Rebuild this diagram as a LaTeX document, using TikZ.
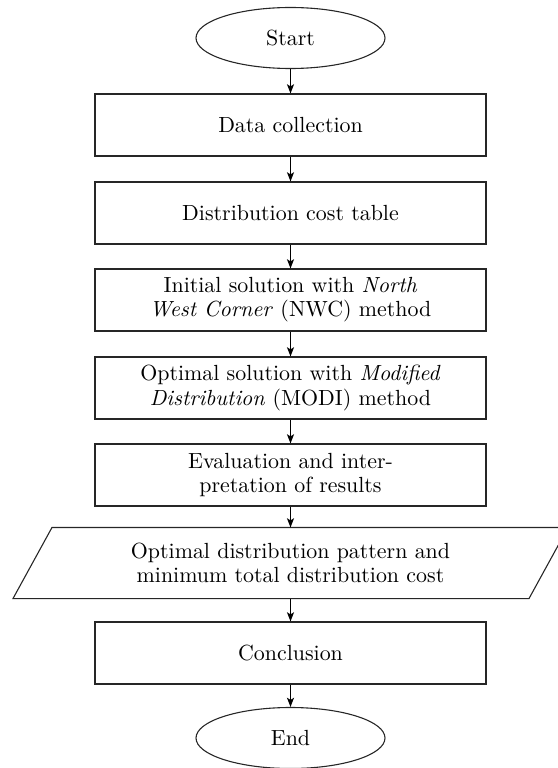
\documentclass[tikz,border=0pt]{standalone}
\usetikzlibrary{shapes.geometric,calc,arrows.meta}
\begin{document}
\begin{tikzpicture}[x=0.4566pt,y=-0.4566pt, line width=0.5pt,
  every node/.style={font=\fontsize{10}{11}\selectfont, align=center, inner sep=0pt},
  stepbox/.style={draw=black!85, rectangle, minimum width=391*0.4566pt, minimum height=62*0.4566pt},
  term/.style={draw=black!85, ellipse, minimum width=189*0.4566pt, minimum height=61*0.4566pt},
  flow/.style={-{Stealth[length=4.2pt,width=3.2pt,inset=1pt]}, line width=0.6pt}]
\useasboundingbox (0,0) rectangle (558,768);
\node[term] (start) at (290.5,38) {Start};
\node[stepbox] (b1) at (290.5,125) {Data collection};
\node[stepbox] (b2) at (290.5,213) {Distribution cost table};
\node[stepbox] (b3) at (290.5,300) {Initial solution with \textit{North}\\\textit{West Corner} (NWC) method};
\node[stepbox] (b4) at (290.5,388) {Optimal solution with \textit{Modified}\\\textit{Distribution} (MODI) method};
\node[stepbox] (b5) at (290.5,475) {Evaluation and inter-\\pretation of results};
\node[minimum height=70*0.4566pt] (para) at (290.5,563) {Optimal distribution pattern and\\minimum total distribution cost};
\draw[black!85] ($(para.north)+(-238.5,0)$) -- ($(para.north)+(277.5,0)$) -- ($(para.south)+(238.5,0)$) -- ($(para.south)+(-277.5,0)$) -- cycle;
\node[stepbox] (b6) at (290.5,653) {Conclusion};
\node[term] (end) at (290.5,738) {End};
\draw[flow] (start) -- (b1);
\draw[flow] (b1) -- (b2);
\draw[flow] (b2) -- (b3);
\draw[flow] (b3) -- (b4);
\draw[flow] (b4) -- (b5);
\draw[flow] (b5) -- (para.north);
\draw[flow] (para.south) -- (b6);
\draw[flow] (b6) -- (end);
\end{tikzpicture}
\end{document}
